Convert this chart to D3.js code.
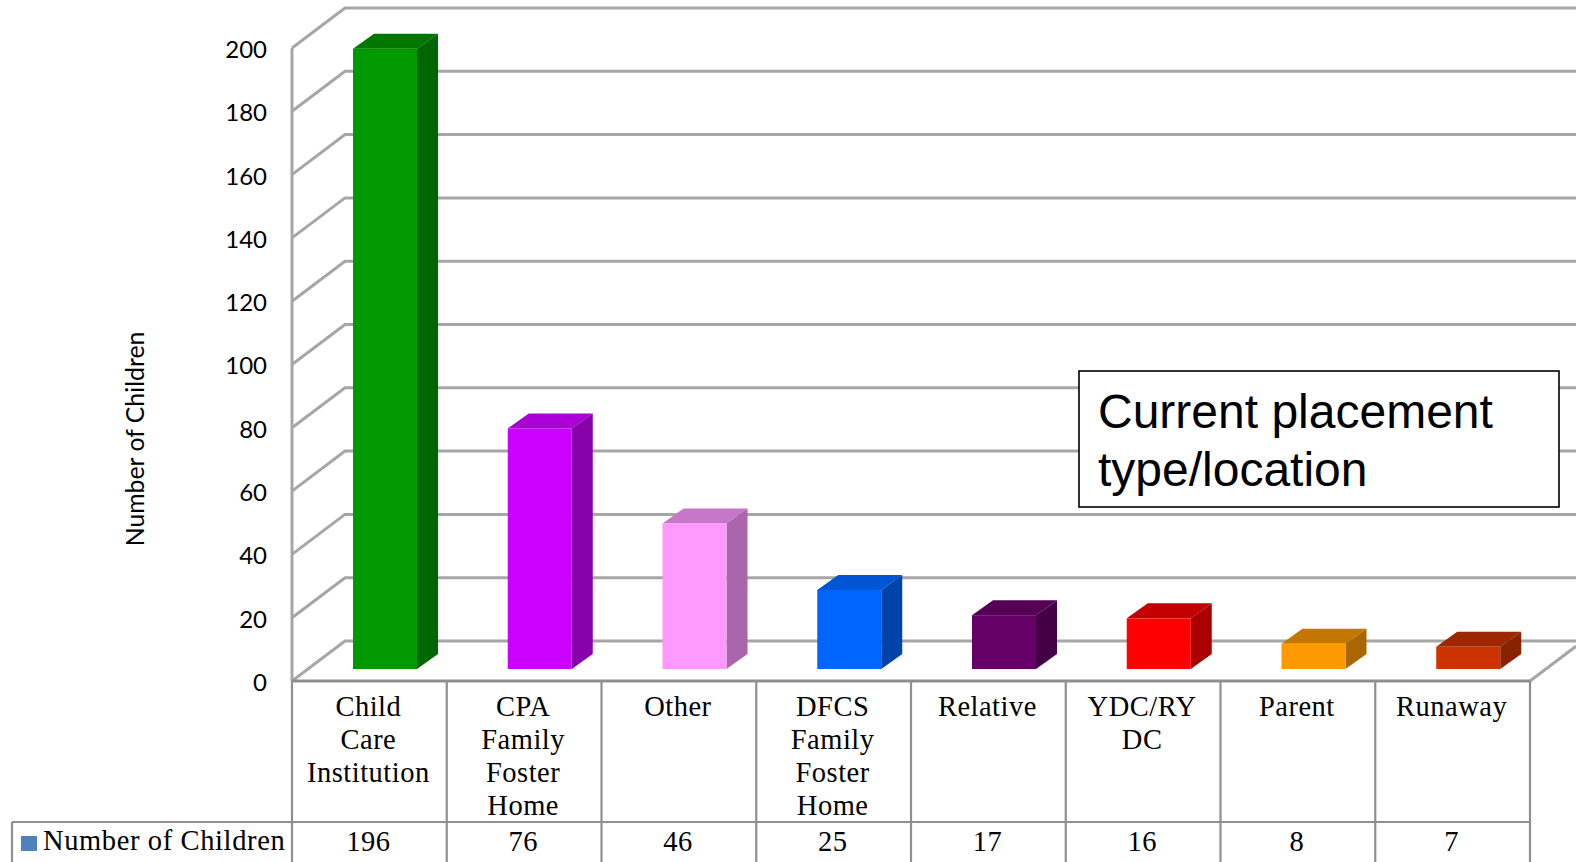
<!DOCTYPE html>
<html><head><meta charset="utf-8">
<script src="https://d3js.org/d3.v7.min.js"></script>
<style>html,body{margin:0;padding:0;background:#fff;overflow:hidden}svg{display:block}</style>
</head><body><svg id="c" width="1576" height="862"></svg>
<script>
const categories=[["Child","Care","Institution"],["CPA","Family","Foster","Home"],["Other"],["DFCS","Family","Foster","Home"],["Relative"],["YDC/RY","DC"],["Parent"],["Runaway"]];
const values=[196,76,46,25,17,16,8,7];
const frontColors=["#009900","#CC00FF","#FF99FF","#0066FF","#660066","#FF0000","#FF9900","#CC3300"];
const sideColors=["#006600","#8800AA","#AA66AA","#0044AA","#440044","#AA0000","#AA6600","#882200"];
const topColors=["#007700","#AA00D5","#C877C8","#0055D5","#550055","#C50000","#C47700","#9C2700"];
const yTicks=d3.range(0,201,20);
const seriesName="Number of Children";
const boxLines=["Current placement","type/location"];

const svg=d3.select("#c");
const grid="#a6a6a6", tbl="#8f8f8f";
const L=292,R=1530,B=681,T=48,DX=53,DY=40;
const x=d3.scaleBand().domain(d3.range(values.length)).range([L,R]);
const y=d3.scaleLinear().domain([0,200]).range([B,T]);
const serif="'Liberation Serif',serif", sans="Lato,'Open Sans',sans-serif";

// gridlines: wall + floor
const g=svg.append("g").attr("fill","none").attr("stroke",grid);
yTicks.forEach(t=>{
  g.append("path").attr("stroke-width",3).attr("d",`M${L},${y(t)}L${L+DX},${y(t)-DY}L1576,${y(t)-DY}`);
});
g.append("path").attr("stroke-width",3).attr("d",`M${L},${B}V${T}`);
g.append("path").attr("stroke-width",3).attr("d",`M${R},${B}L1576,${B-DY*46/DX}`);

// y tick labels
svg.append("g").selectAll("text").data(yTicks).join("text")
  .attr("x",267).attr("y",d=>y(d)+1.5).attr("dy","0.35em").attr("text-anchor","end")
  .attr("font-family",sans).attr("font-size",24).attr("fill","#000").text(d=>d);
svg.append("text").attr("transform","translate(144,439) rotate(-90)")
  .attr("text-anchor","middle").attr("font-family",sans).attr("font-size",24.8).attr("fill","#000").text(seriesName);

// bars
const bx=i=>x(i)+61, bw=64, ddx=21, ddy=15, lift=12;
const bars=svg.append("g").selectAll("g").data(values).join("g");
bars.append("path").attr("fill",(d,i)=>topColors[i]).attr("d",(d,i)=>{
  const a=bx(i),t=y(d)-lift;
  return `M${a},${t}L${a+ddx},${t-ddy}H${a+bw+ddx}L${a+bw},${t}Z`;});
bars.append("path").attr("fill",(d,i)=>sideColors[i]).attr("d",(d,i)=>{
  const a=bx(i)+bw,t=y(d)-lift,b=B-lift;
  return `M${a},${t}L${a+ddx},${t-ddy}V${b-ddy}L${a},${b}Z`;});
bars.append("rect").attr("fill",(d,i)=>frontColors[i])
  .attr("x",(d,i)=>bx(i)).attr("y",d=>y(d)-lift).attr("width",bw).attr("height",d=>B-y(d));

// data table
const tb=svg.append("g").attr("stroke",tbl).attr("stroke-width",2.2).attr("fill","none");
const rowY=822;
tb.append("path").attr("d",`M${L},${B}H${R}`).attr("stroke-width",3);
tb.append("path").attr("d",`M12,${rowY}H${R}`);
tb.append("path").attr("d",`M12,${rowY}V862`);
x.domain().concat([values.length]).forEach(i=>{
  const px=i<values.length?x(i):R;
  tb.append("path").attr("d",`M${px},${B}V862`);
});
const t=svg.append("g").attr("font-family",serif).attr("fill","#000").attr("text-anchor","middle").attr("font-size",28.5).attr("letter-spacing",0.5);
categories.forEach((c,i)=>{
  c.forEach((ln,j)=>t.append("text").attr("x",x(i)+x.bandwidth()/2-1).attr("y",716+j*33).text(ln));
  t.append("text").attr("x",x(i)+x.bandwidth()/2-1).attr("y",851).text(values[i]);
});
svg.append("rect").attr("x",21).attr("y",836).attr("width",16).attr("height",15).attr("fill","#4F81BD");
t.append("text").attr("x",43).attr("y",850).attr("text-anchor","start").attr("letter-spacing",0.62).text(seriesName);

// annotation box
svg.append("rect").attr("x",1079).attr("y",371).attr("width",480).attr("height",136).attr("fill","#fff").attr("stroke","#000").attr("stroke-width",1.6);
boxLines.forEach((s,i)=>svg.append("text").attr("x",1098).attr("y",427.5+i*58).attr("font-family","'Liberation Sans',Arial,sans-serif").attr("font-size",48).attr("fill","#000").text(s));
</script></body></html>
